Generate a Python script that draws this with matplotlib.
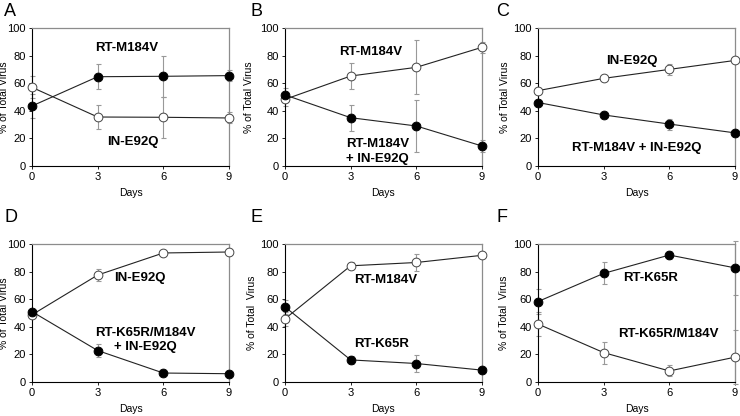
import matplotlib
matplotlib.use("Agg")
import matplotlib.pyplot as plt
import numpy as np

plt.rcParams['font.family'] = ['Liberation Sans', 'DejaVu Sans']

days = [0, 3, 6, 9]
xticks = [0, 3, 6, 9]
yticks = [0, 20, 40, 60, 80, 100]
panel_letters = ["A", "B", "C", "D", "E", "F"]

# Panel A
A_filled = [43.5, 64.7, 65.0, 65.5]
A_filled_err = [8.5, 9.0, 15.0, 4.0]
A_open = [57.0, 35.5, 35.3, 34.8]
A_open_err = [8.0, 9.0, 15.0, 4.0]
# Panel B
B_filled = [51.5, 35.0, 29.0, 14.5]
B_filled_err = [5.0, 9.5, 19.0, 4.0]
B_open = [48.3, 65.2, 71.5, 86.0]
B_open_err = [5.0, 9.5, 19.5, 4.0]
# Panel C
C_filled = [46.0, 37.0, 30.4, 24.0]
C_filled_err = [2.0, 1.5, 4.0, 1.5]
C_open = [54.6, 63.5, 70.0, 76.5]
C_open_err = [2.0, 1.5, 4.0, 1.5]
# Panel D
D_filled = [51.0, 22.8, 6.5, 6.0]
D_filled_err = [1.5, 4.5, 1.0, 1.0]
D_open = [48.7, 77.5, 93.5, 94.2]
D_open_err = [1.5, 4.5, 1.0, 1.0]
# Panel E
E_filled = [54.4, 16.0, 13.4, 8.6]
E_filled_err = [5.0, 3.0, 6.0, 1.5]
E_open = [45.8, 84.2, 86.6, 91.8]
E_open_err = [5.0, 2.5, 6.0, 1.5]
# Panel F
F_filled = [58.3, 78.7, 92.0, 82.7]
F_filled_err = [9.0, 8.0, 3.0, 19.5]
F_open = [42.0, 21.3, 8.0, 18.0]
F_open_err = [9.0, 8.0, 4.0, 19.5]

filled_series = [A_filled, B_filled, C_filled, D_filled, E_filled, F_filled]
filled_errs = [A_filled_err, B_filled_err, C_filled_err, D_filled_err, E_filled_err, F_filled_err]
open_series = [A_open, B_open, C_open, D_open, E_open, F_open]
open_errs = [A_open_err, B_open_err, C_open_err, D_open_err, E_open_err, F_open_err]

# annotations: (text, x, y, ha)
annotations = [
    [("RT-M184V", 4.34, 85.5, "center"), ("IN-E92Q", 4.6, 17.6, "center")],
    [("RT-M184V", 3.93, 82.8, "center"), ("RT-M184V\n+ IN-E92Q", 2.78, 10.5, "left")],
    [("IN-E92Q", 4.3, 76.3, "center"), ("RT-M184V + IN-E92Q", 4.5, 12.8, "center")],
    [("IN-E92Q", 3.73, 75.5, "left"), ("RT-K65R/M184V\n+ IN-E92Q", 5.2, 30.7, "center")],
    [("RT-M184V", 3.15, 73.9, "left"), ("RT-K65R", 3.15, 27.6, "left")],
    [("RT-K65R", 3.88, 75.5, "left"), ("RT-K65R/M184V", 3.66, 34.8, "left")],
]
ylabels = ["% of Total Virus"] * 4 + ["% of Total  Virus", "% of Total  Virus"]
ylabel_x = [-0.118, -0.155, -0.142, -0.118, -0.142, -0.147]

W, H = 740, 416
fig = plt.figure(figsize=(7.4, 4.16), dpi=100)

lefts = [32, 285, 538]
tops = [28, 244]
aw, ah = 197, 138

for i in range(6):
    r, c = divmod(i, 3)
    l = lefts[c]
    t = tops[r]
    ax = fig.add_axes([l / W, 1 - (t + ah) / H, aw / W, ah / H])
    ax.set_xlim(0, 9)
    ax.set_ylim(0, 100)
    ax.set_xticks(xticks)
    ax.set_yticks(yticks)
    ax.tick_params(labelsize=8, length=2.5, width=0.6, direction='out', pad=2)
    for side in ['left', 'bottom']:
        ax.spines[side].set_color('black')
        ax.spines[side].set_linewidth(0.8)
    for side in ['top', 'right']:
        ax.spines[side].set_color('#8c8c8c')
        ax.spines[side].set_linewidth(0.9)
    ax.set_xlabel("Days", fontsize=7.5, labelpad=4)
    ax.set_ylabel(ylabels[i], fontsize=7.5)
    ax.yaxis.set_label_coords(ylabel_x[i], 0.5)

    ax.errorbar(days, open_series[i], yerr=open_errs[i], fmt='none', ecolor='#999999',
                elinewidth=0.8, capsize=1.8, capthick=0.8, clip_on=False, zorder=2)
    ax.errorbar(days, filled_series[i], yerr=filled_errs[i], fmt='none', ecolor='#999999',
                elinewidth=0.8, capsize=1.8, capthick=0.8, clip_on=False, zorder=2)
    ax.plot(days, open_series[i], '-', color='#222222', lw=0.8, marker='o', ms=6.3,
            mfc='white', mec='#444444', mew=0.7, clip_on=False, zorder=4)
    ax.plot(days, filled_series[i], '-', color='#222222', lw=0.8, marker='o', ms=6.3,
            mfc='black', mec='black', mew=0.7, clip_on=False, zorder=5)

    for (txt, x, y, ha) in annotations[i]:
        ax.text(x, y, txt, ha=ha, va='center', fontsize=9.5, fontweight='bold',
                multialignment=ha, linespacing=1.25, zorder=6)

    fig.text((4 + 246 * c) / W, 1 - (12 + 206 * r) / H, panel_letters[i], fontsize=13,
             ha='left', va='center')

fig.savefig("out.png", dpi=100)
